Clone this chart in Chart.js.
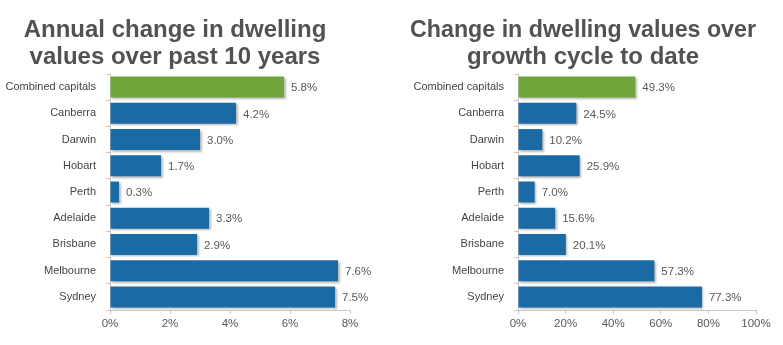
<!DOCTYPE html>
<html>
<head>
<meta charset="utf-8">
<script src="https://cdn.jsdelivr.net/npm/chart.js@4"></script>
<style>
  body { margin: 0; background: #fff; }
  canvas { position: absolute; top: 0; }
  #annual { left: 0; }
  #cycle { left: 392px; }
</style>
</head>
<body>
<canvas id="annual" width="392" height="345"></canvas>
<canvas id="cycle" width="391" height="345"></canvas>
<script>
// Dwelling value change by capital city
const cities = ['Combined capitals', 'Canberra', 'Darwin', 'Hobart', 'Perth', 'Adelaide', 'Brisbane', 'Melbourne', 'Sydney'];
const annualChange = [5.8, 4.2, 3.0, 1.7, 0.3, 3.3, 2.9, 7.6, 7.5];
const cycleChange = [49.3, 24.5, 10.2, 25.9, 7.0, 15.6, 20.1, 57.3, 77.3];

const annualTitle = ['Annual change in dwelling', 'values over past 10 years'];
const cycleTitle = ['Change in dwelling values over', 'growth cycle to date'];

const GREEN = '#70a53c';
const BLUE = '#1a6ba5';
const FONT = '"Liberation Sans", Arial, sans-serif';
const barColors = cities.map((c, i) => i === 0 ? GREEN : BLUE);

// soft drop shadow under the bars
const shadowPlugin = {
  id: 'barShadow',
  beforeDatasetsDraw(chart) {
    const ctx = chart.ctx;
    ctx.save();
    ctx.shadowColor = 'rgba(0,0,0,0.28)';
    ctx.shadowOffsetX = 1.5;
    ctx.shadowOffsetY = 1.5;
    ctx.shadowBlur = 2;
  },
  afterDatasetsDraw(chart) {
    chart.ctx.restore();
  }
};

// value text just past the end of each bar
const valueLabelPlugin = {
  id: 'valueLabels',
  afterDatasetsDraw(chart) {
    const ctx = chart.ctx;
    const meta = chart.getDatasetMeta(0);
    const data = chart.data.datasets[0].data;
    ctx.save();
    ctx.font = '11.5px ' + FONT;
    ctx.fillStyle = '#595959';
    ctx.textAlign = 'left';
    ctx.textBaseline = 'middle';
    meta.data.forEach((bar, i) => {
      ctx.fillText(data[i].toFixed(1) + '%', bar.x + 7, bar.y + 1);
    });
    ctx.restore();
  }
};

function makeChart(id, values, title, xMax, step, padLeft, padRight, yWidth) {
  return new Chart(document.getElementById(id), {
    type: 'bar',
    data: {
      labels: cities,
      datasets: [{
        data: values,
        backgroundColor: barColors,
        borderWidth: 0,
        categoryPercentage: 0.8,
        barPercentage: 1
      }]
    },
    plugins: [shadowPlugin, valueLabelPlugin],
    options: {
      indexAxis: 'y',
      responsive: false,
      animation: false,
      layout: { padding: { left: padLeft, right: padRight, top: 0, bottom: 0 } },
      plugins: {
        legend: { display: false },
        tooltip: { enabled: false },
        title: {
          display: true,
          text: title,
          color: '#525252',
          font: { family: FONT, size: 24, weight: 'bold', lineHeight: 1.125 },
          padding: { top: 17, bottom: 3 }
        }
      },
      scales: {
        x: {
          min: 0,
          max: xMax,
          afterFit(scale) { scale.height = 35; },
          ticks: {
            stepSize: step,
            padding: 3,
            color: '#595959',
            font: { family: FONT, size: 11.5 },
            callback: v => v + '%'
          },
          grid: { drawOnChartArea: false, drawTicks: true, tickLength: 4, color: '#c8c8c8' },
          border: { display: true, color: '#c8c8c8' }
        },
        y: {
          afterFit(scale) { scale.width = yWidth; },
          ticks: {
            padding: 10,
            color: '#454545',
            font: { family: FONT, size: 11 }
          },
          grid: { drawOnChartArea: false, drawTicks: true, tickLength: 4, color: '#e2bcbc' },
          border: { display: true, color: '#c8c8c8' }
        }
      }
    }
  });
}

makeChart('annual', annualChange, annualTitle, 8, 2, 0, 42, 110);
makeChart('cycle', cycleChange, cycleTitle, 100, 20, 18, 27, 108);
</script>
</body>
</html>
